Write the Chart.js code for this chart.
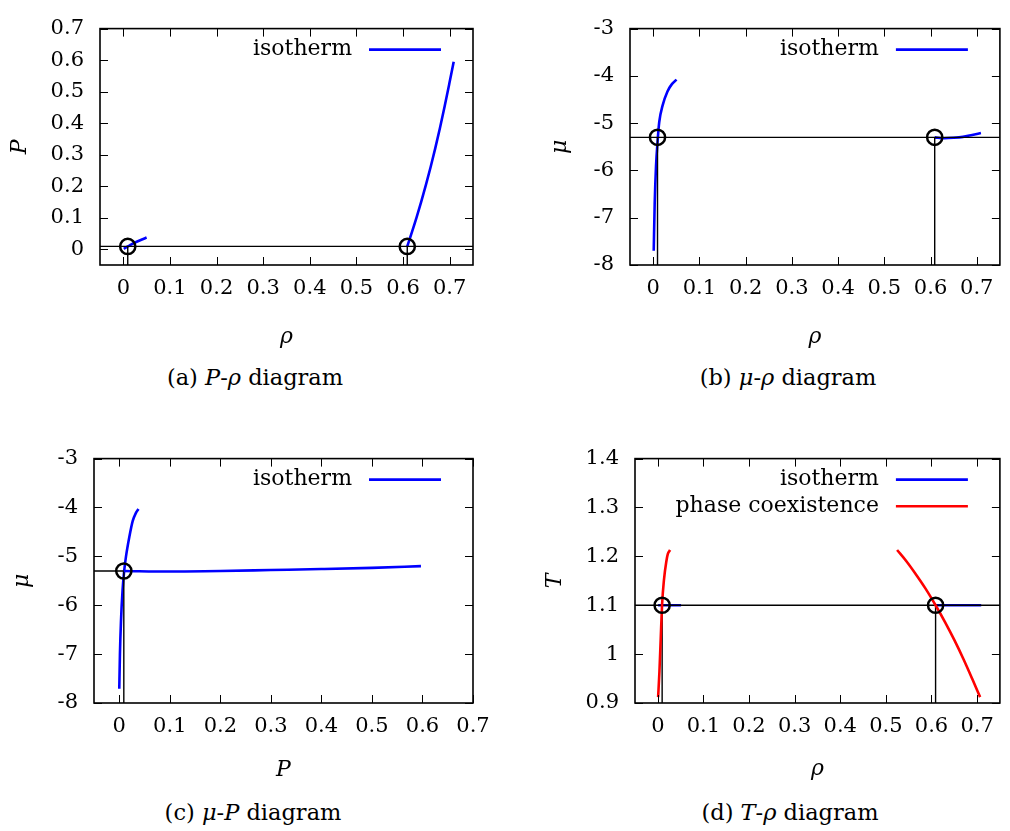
<!DOCTYPE html>
<html><head><meta charset="utf-8">
<script src="https://cdn.jsdelivr.net/npm/chart.js@4"></script>
<style>
body{margin:0;background:#fff;width:1010px;height:831px;position:relative;overflow:hidden;font-family:"DejaVu Serif",serif;}
canvas{position:absolute;}
.cap{position:absolute;font-size:22.5px;white-space:nowrap;transform:translate(-50%,-50%);color:#000;line-height:1;}
</style></head><body>
<canvas id="ca" width="505" height="355" style="left:0;top:0"></canvas>
<canvas id="cb" width="505" height="355" style="left:505px;top:0"></canvas>
<canvas id="cc" width="505" height="355" style="left:0;top:430px"></canvas>
<canvas id="cd" width="505" height="355" style="left:505px;top:430px"></canvas>
<div class="cap" style="left:255px;top:377px">(a) <i>P</i>-<i>ρ</i> diagram</div>
<div class="cap" style="left:788px;top:377px">(b) <i>μ</i>-<i>ρ</i> diagram</div>
<div class="cap" style="left:253px;top:812px">(c) <i>μ</i>-<i>P</i> diagram</div>
<div class="cap" style="left:790px;top:812px">(d) <i>T</i>-<i>ρ</i> diagram</div>
<script>
// ---- tick labels / axis ranges ----
const rhoTicks = [0, 0.1, 0.2, 0.3, 0.4, 0.5, 0.6, 0.7];
const pTicks = [0, 0.1, 0.2, 0.3, 0.4, 0.5, 0.6, 0.7];
const muTicks = [-8, -7, -6, -5, -4, -3];
const tTicks = [0.9, 1, 1.1, 1.2, 1.3, 1.4];
const rhoRange = [-0.05, 0.75];
const pRangeY = [-0.05, 0.7];
const pRangeX = [-0.05, 0.7];
const muRange = [-8, -3];
const tRange = [0.9, 1.4];

// ---- coexistence point ----
const rhoGasCoex = 0.0095;
const rhoLiqCoex = 0.609;
const pCoex = 0.009;
const muCoex = -5.3;
const tIso = 1.1;

// ---- (a) P vs rho isotherm ----
const aGasRho = [0.001, 0.005, 0.0095, 0.015, 0.02, 0.03, 0.04, 0.05];
const aGasP   = [0.001, 0.005, 0.009, 0.0135, 0.0175, 0.0245, 0.031, 0.037];
const aLiqRho = [0.609, 0.619, 0.629, 0.639, 0.649, 0.659, 0.669, 0.679, 0.689, 0.699, 0.7086];
const aLiqP   = [0.009, 0.054, 0.101, 0.151, 0.204, 0.26, 0.32, 0.384, 0.452, 0.524, 0.595];

// ---- (b) mu vs rho isotherm ----
const bGasRho = [0.0013, 0.0034, 0.0063, 0.0098, 0.0133, 0.0204, 0.031, 0.041, 0.0507];
const bGasMu  = [-7.7, -6.7, -5.9, -5.37, -4.97, -4.63, -4.33, -4.17, -4.08];
const bLiqRho = [0.609, 0.63, 0.65, 0.67, 0.69, 0.709];
const bLiqMu  = [-5.3, -5.32, -5.31, -5.29, -5.25, -5.21];

// ---- (c) mu vs P isotherm ----
const cGasP  = [0, 0.0013, 0.0033, 0.0066, 0.0099, 0.0132, 0.0198, 0.0265, 0.033, 0.038];
const cGasMu = [-7.71, -7.01, -6.35, -5.68, -5.28, -5.01, -4.61, -4.28, -4.11, -4.03];
const cLiqP  = [0.009, 0.1, 0.2, 0.3, 0.4, 0.5, 0.597];
const cLiqMu = [-5.3, -5.31, -5.3, -5.28, -5.26, -5.235, -5.2];

// ---- (d) T vs rho ----
const dIsoGasRho = [0.0007, 0.051];
const dIsoLiqRho = [0.609, 0.709];
const dCoexGasRho = [0.0007, 0.0036, 0.0064, 0.0093, 0.0135, 0.0186, 0.022, 0.027];
const dCoexGasT   = [0.912, 0.965, 1.032, 1.10, 1.152, 1.189, 1.205, 1.213];
const dCoexLiqRho = [0.5246, 0.545, 0.566, 0.587, 0.609, 0.63, 0.65, 0.67, 0.69, 0.7066];
const dCoexLiqT   = [1.213, 1.19, 1.163, 1.134, 1.10, 1.065, 1.029, 0.99, 0.948, 0.912];

const FONT = '"DejaVu Serif", serif';
const BLUE = '#0000ff', RED = '#ff0000';
const pts = (xs, ys) => xs.map((x, i) => ({x, y: ys[i]}));
const fmt = v => String(Math.round(v * 10) / 10);

const curve = (data, color, order, legendLabel) => ({
  data, borderColor: color, backgroundColor: color, borderWidth: 2.6,
  showLine: true, pointRadius: 0, pointHoverRadius: 0, cubicInterpolationMode: 'monotone', order, legendLabel
});
const guide = (data) => ({
  data, borderColor: '#000', borderWidth: 1.4, showLine: true, pointRadius: 0,
  pointHoverRadius: 0, tension: 0, order: 1
});
const circles = (data) => ({
  data, showLine: false, pointRadius: 7.6, pointHoverRadius: 7.6, pointBorderWidth: 2.5,
  pointBorderColor: '#000', pointBackgroundColor: 'rgba(0,0,0,0)', order: -1
});

const framePlugin = {
  id: 'frame',
  afterDatasetsDraw(chart) {
    const {ctx, chartArea: a, scales} = chart;
    ctx.save();
    ctx.strokeStyle = '#000';
    ctx.lineWidth = 1;
    const L = 8;
    ctx.beginPath();
    scales.x.ticks.forEach(t => {
      const px = Math.round(scales.x.getPixelForValue(t.value)) + 0.5;
      ctx.moveTo(px, a.bottom); ctx.lineTo(px, a.bottom - L);
      ctx.moveTo(px, a.top); ctx.lineTo(px, a.top + L);
    });
    scales.y.ticks.forEach(t => {
      const py = Math.round(scales.y.getPixelForValue(t.value)) + 0.5;
      ctx.moveTo(a.left, py); ctx.lineTo(a.left + L, py);
      ctx.moveTo(a.right, py); ctx.lineTo(a.right - L, py);
    });
    ctx.stroke();
    ctx.lineWidth = 1.6;
    ctx.strokeRect(a.left, a.top, a.right - a.left, a.bottom - a.top);
    // legend (gnuplot style: text right-aligned, sample line to the right)
    let row = 0;
    ctx.font = '22px ' + FONT;
    ctx.textAlign = 'right';
    ctx.textBaseline = 'middle';
    chart.data.datasets.forEach(ds => {
      if (!ds.legendLabel) return;
      const y = a.top + 21 + row * 26.7;
      ctx.fillStyle = '#000';
      ctx.fillText(ds.legendLabel, a.right - 121, y);
      ctx.strokeStyle = ds.borderColor;
      ctx.lineWidth = 2.6;
      ctx.beginPath();
      ctx.moveTo(a.right - 104, y); ctx.lineTo(a.right - 32, y);
      ctx.stroke();
      row++;
    });
    ctx.restore();
  }
};

function makeChart(id, g) {
  return new Chart(document.getElementById(id), {
    type: 'scatter',
    data: {datasets: g.datasets},
    plugins: [framePlugin],
    options: {
      responsive: false, animation: false, devicePixelRatio: 1,
      layout: {padding: {top: g.padTop, right: g.padRight, left: 0, bottom: 0}},
      plugins: {legend: {display: false}, tooltip: {enabled: false}},
      scales: {
        x: {
          type: 'linear', min: g.xRange[0], max: g.xRange[1],
          grid: {display: false, drawTicks: false}, border: {display: false},
          afterBuildTicks: s => { s.ticks = g.xTicks.map(v => ({value: v})); },
          afterFit: s => { s.height = g.xh; },
          ticks: {callback: fmt, color: '#000', font: {family: FONT, size: 21}, padding: 11,
                  autoSkip: false, maxRotation: 0, minRotation: 0},
          title: {display: true, text: g.xTitle, color: '#000',
                  font: {family: FONT, size: 22, style: 'italic'}, padding: {top: 0, bottom: g.xTitlePad}}
        },
        y: {
          type: 'linear', min: g.yRange[0], max: g.yRange[1],
          grid: {display: false, drawTicks: false}, border: {display: false},
          afterBuildTicks: s => { s.ticks = g.yTicks.map(v => ({value: v})); },
          afterFit: s => { s.width = g.yw; },
          ticks: {callback: fmt, color: '#000', font: {family: FONT, size: 21}, padding: 16, autoSkip: false},
          title: {display: true, text: g.yTitle, color: '#000',
                  font: {family: FONT, size: 22, style: 'italic'}, padding: {top: g.yTitlePad, bottom: 0}}
        }
      }
    }
  });
}

// (a)
makeChart('ca', {
  padTop: 15, padRight: 32, yw: 100, xh: 90, xTitlePad: 5, yTitlePad: 7,
  xRange: rhoRange, yRange: pRangeY, xTicks: rhoTicks, yTicks: pTicks, xTitle: 'ρ', yTitle: 'P',
  datasets: [
    curve(pts(aGasRho, aGasP), BLUE, 2, 'isotherm'),
    curve(pts(aLiqRho, aLiqP), BLUE, 2),
    guide(pts(rhoRange, [pCoex, pCoex])),
    guide(pts([rhoGasCoex, rhoGasCoex], [pRangeY[0], pCoex])),
    guide(pts([rhoLiqCoex, rhoLiqCoex], [pRangeY[0], pCoex])),
    circles(pts([rhoGasCoex, rhoLiqCoex], [pCoex, pCoex]))
  ]
});
// (b)
makeChart('cb', {
  padTop: 15, padRight: 1, yw: 125, xh: 90, xTitlePad: 5, yTitlePad: 42,
  xRange: rhoRange, yRange: muRange, xTicks: rhoTicks, yTicks: muTicks, xTitle: 'ρ', yTitle: 'μ',
  datasets: [
    curve(pts(bGasRho, bGasMu), BLUE, 2, 'isotherm'),
    curve(pts(bLiqRho, bLiqMu), BLUE, 2),
    guide(pts(rhoRange, [muCoex, muCoex])),
    guide(pts([rhoGasCoex, rhoGasCoex], [muRange[0], muCoex])),
    guide(pts([rhoLiqCoex, rhoLiqCoex], [muRange[0], muCoex])),
    circles(pts([rhoGasCoex, rhoLiqCoex], [muCoex, muCoex]))
  ]
});
// (c)
makeChart('cc', {
  padTop: 23, padRight: 32, yw: 94, xh: 82, xTitlePad: 2, yTitlePad: 9,
  xRange: pRangeX, yRange: muRange, xTicks: pTicks, yTicks: muTicks, xTitle: 'P', yTitle: 'μ',
  datasets: [
    curve(pts(cGasP, cGasMu), BLUE, 2, 'isotherm'),
    curve(pts(cLiqP, cLiqMu), BLUE, 0),
    guide(pts([pRangeX[0], pCoex], [muCoex, muCoex])),
    guide(pts([pCoex, pCoex], [muRange[0], muCoex])),
    circles(pts([pCoex], [muCoex]))
  ]
});
// (d)
makeChart('cd', {
  padTop: 23, padRight: 1, yw: 130, xh: 82, xTitlePad: 3, yTitlePad: 37,
  xRange: rhoRange, yRange: tRange, xTicks: rhoTicks, yTicks: tTicks, xTitle: 'ρ', yTitle: 'T',
  datasets: [
    curve(pts(dIsoGasRho, [tIso, tIso]), BLUE, 2, 'isotherm'),
    curve(pts(dIsoLiqRho, [tIso, tIso]), BLUE, 2),
    curve(pts(dCoexGasRho, dCoexGasT), RED, 0, 'phase coexistence'),
    curve(pts(dCoexLiqRho, dCoexLiqT), RED, 0),
    guide(pts(rhoRange, [tIso, tIso])),
    guide(pts([rhoGasCoex, rhoGasCoex], [tRange[0], tIso])),
    guide(pts([rhoLiqCoex, rhoLiqCoex], [tRange[0], tIso])),
    circles(pts([rhoGasCoex, rhoLiqCoex], [tIso, tIso]))
  ]
});
</script>
</body></html>
